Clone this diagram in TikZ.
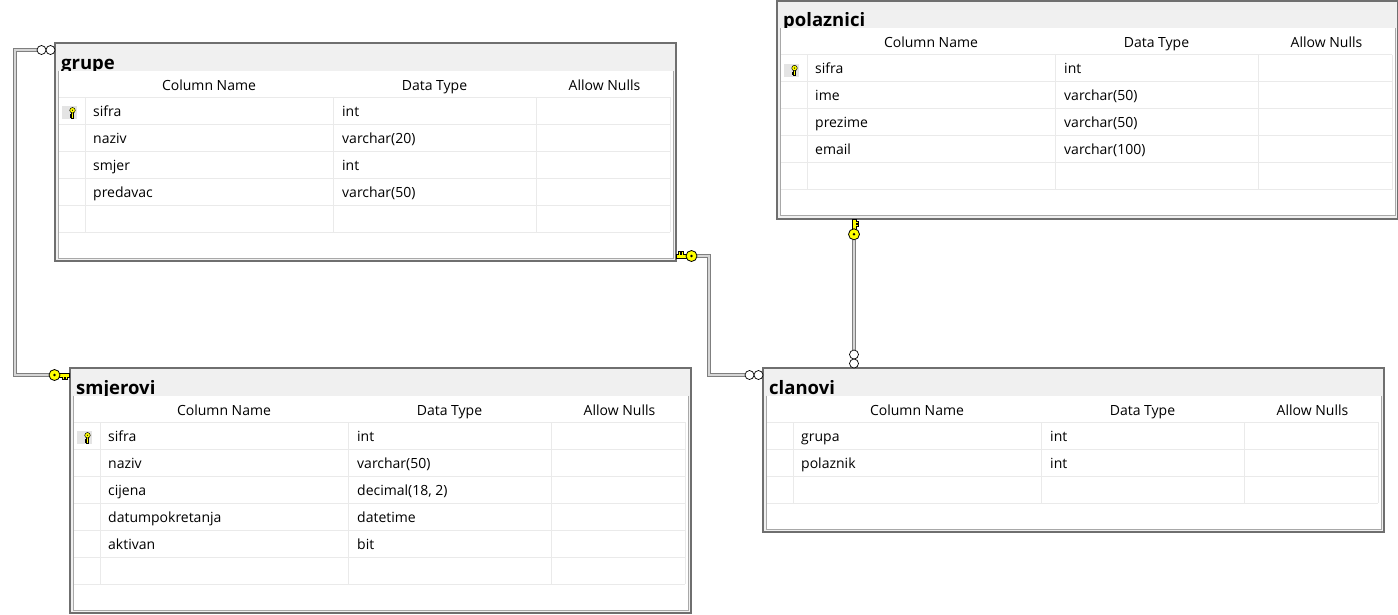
\documentclass[tikz,border=0pt]{standalone}
\usepackage{fontspec}
\setmainfont{Open Sans}
\usetikzlibrary{calc,backgrounds}

\definecolor{framegray}{HTML}{6F6F6F}
\definecolor{headgray}{HTML}{F0F0F0}
\definecolor{panelgray}{HTML}{A8A8A8}
\definecolor{gridgray}{HTML}{EAEAEA}
\definecolor{keybg}{HTML}{E4E4E4}
\definecolor{keyyellow}{HTML}{FFFF00}
\definecolor{relgray}{HTML}{7F7F7F}
\definecolor{relfill}{HTML}{D6D6D6}

\tikzset{
  keyline/.style={fill=keyyellow, draw=black, line width=0.8pt},
  pkkey/.pic={
    \filldraw[keyline] (-0.5,-2) -- (-11,-2) -- (-11,2) -- (-7.5,2) -- (-7.5,4.5)
      -- (-5.5,4.5) -- (-5.5,2) -- (-4.5,2) -- (-4.5,4.5) -- (-2.5,4.5) -- (-2.5,2) -- (-0.5,2) -- cycle;
    \filldraw[keyline] (-15.5,0) circle (5.5);
    \fill (-15.5,0) circle (1.4);
    \coordinate (-end) at (-21,0);
  },
  manyend/.pic={
    \filldraw[fill=white, draw=black, line width=0.7pt] (-4.5,0) circle (4.5) (-13.5,0) circle (4.5);
    \coordinate (-end) at (-18,0);
  }
}

% one table of the diagram: name, x, y, title, number of rows, column/type list
\newcommand{\erdtable}[6]{%
  \pgfmathtruncatemacro{\tblrows}{#5+1}%
  \pgfmathsetmacro{\tblh}{83+27*\tblrows}%
  \node[tblframe, minimum height=\tblh pt, anchor=north west] (#1) at (#2,#3) {};
  \node[tbltitle] (#1-title) at (#2+6,#3+26) {#4};
  \fill[white] (#2+3,#3+27.5) rectangle (#2+618,#3+\tblh-3);
  \draw[panelline] (#2+3,#3+27.5) -- (#2+3,#3+\tblh-3) -- (#2+618,#3+\tblh-3) -- (#2+618,#3+27.5);
  \foreach \k in {0,...,\tblrows}
    \draw[gridline] (#2+4,#3+54+27*\k) -- (#2+615,#3+54+27*\k);
  \foreach \vx in {30,278,481,615}
    \draw[gridline] (#2+\vx,#3+54) -- (#2+\vx,#3+54+27*\tblrows);
  \node[headtext] (#1-hname) at (#2+154,#3+47) {Column Name};
  \node[headtext] (#1-htype) at (#2+379.5,#3+47) {Data Type};
  \node[headtext] (#1-hnull) at (#2+549.5,#3+47) {Allow Nulls};
  \foreach \col/\typ [count=\i] in {#6} {
    \node[celltext] (#1-c\i) at (#2+38,#3+46+27*\i) {\col};
    \node[celltext] (#1-t\i) at (#2+287,#3+46+27*\i) {\typ};
  }
}

\begin{document}
\begin{tikzpicture}[
  x=1pt, y=-1pt,
  tblframe/.style={draw=framegray, line width=1.5pt, fill=headgray, minimum width=621pt, inner sep=0pt, outer sep=0pt},
  tbltitle/.style={anchor=base west, inner sep=0pt, font=\fontsize{18.5}{22}\selectfont\bfseries},
  panelline/.style={draw=panelgray, line width=0.8pt},
  gridline/.style={draw=gridgray, line width=1pt},
  headtext/.style={anchor=base, inner sep=0pt, font=\fontsize{14}{17}\selectfont},
  celltext/.style={anchor=base west, inner sep=0pt, font=\fontsize{14}{17}\selectfont},
  rowkey/.style={fill=keybg},
  rel/.style={draw=relgray, double=relfill, line width=0.9pt, double distance=1.6pt}
]
\useasboundingbox (0,0) rectangle (1398,614);

\erdtable{grupe}{55}{43}{grupe}{4}{sifra/int, naziv/varchar(20), smjer/int, predavac/varchar(50)}
\erdtable{polaznici}{777}{0.8}{polaznici}{4}{sifra/int, ime/varchar(50), prezime/varchar(50), email/varchar(100)}
\erdtable{smjerovi}{70}{368}{smjerovi}{5}{sifra/int, naziv/varchar(50), cijena/{decimal(18, 2)}, datumpokretanja/datetime, aktivan/bit}
\erdtable{clanovi}{763}{368}{clanovi}{2}{grupa/int, polaznik/int}

% primary key marks
\foreach \t in {grupe,polaznici,smjerovi} {
  \fill[rowkey] ($(\t.north west)+(7,63)$) rectangle ($(\t.north west)+(22,76)$);
  \pic[rotate=-90, scale=0.5, keyline/.append style={line width=0.5pt}] at ($(\t.north west)+(17.5,75)$) {pkkey};
}

% relationship ends
\pic (m1) at ($(grupe.north west)+(0,7)$) {manyend};
\pic (k1) at ($(smjerovi.north west)+(0,7)$) {pkkey};
\pic[rotate=180] (k2) at ($(grupe.south east)+(0,-5)$) {pkkey};
\pic (m2) at ($(clanovi.north west)+(0,7)$) {manyend};
\pic[rotate=90] (k3) at ($(polaznici.south west)+(77,0)$) {pkkey};
\pic[rotate=-90] (m3) at ($(clanovi.north west)+(91,0)$) {manyend};

\begin{scope}[on background layer]
\draw[rel] (m1-end) -- ++(-22,0) |- (k1-end);
\draw[rel] (k2-end) -- ++(12,0) |- (m2-end);
\draw[rel] (k3-end) -- (m3-end);
\end{scope}

\end{tikzpicture}
\end{document}
